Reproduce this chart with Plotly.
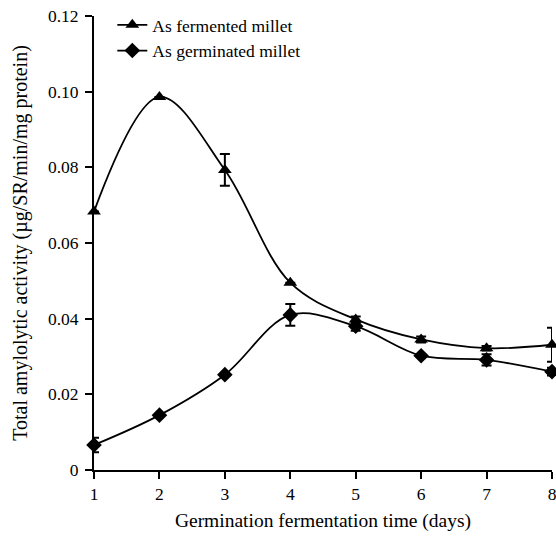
import plotly.graph_objects as go

days = [1, 2, 3, 4, 5, 6, 7, 8]
fermented = [0.0683, 0.0986, 0.0793, 0.0495, 0.0398, 0.0345, 0.0322, 0.0331]
fermented_err = [0.0, 0.0, 0.0042, 0.0, 0.0008, 0.0008, 0.0006, 0.0045]
germinated = [0.0066, 0.0145, 0.0252, 0.0410, 0.0380, 0.0302, 0.0291, 0.0260]
germinated_err = [0.0019, 0.0004, 0.0, 0.0029, 0.0012, 0.0, 0.0015, 0.0010]

y_ticks = [0, 0.02, 0.04, 0.06, 0.08, 0.10, 0.12]
y_ticktext = ["0", "0.02", "0.04", "0.06", "0.08", "0.10", "0.12"]
x_ticks = [1, 2, 3, 4, 5, 6, 7, 8]

font_family = "Liberation Serif, Times New Roman, serif"

fig = go.Figure()
fig.add_trace(go.Scatter(
    x=days, y=fermented, name="As fermented millet",
    mode="lines+markers",
    line=dict(color="black", width=1.8, shape="spline", smoothing=1.0),
    marker=dict(symbol="triangle-up", size=12, color="black"),
    error_y=dict(type="data", array=fermented_err, visible=True,
                 color="black", thickness=2, width=5),
    cliponaxis=False,
))
fig.add_trace(go.Scatter(
    x=days, y=germinated, name="As germinated millet",
    mode="lines+markers",
    line=dict(color="black", width=1.8, shape="spline", smoothing=1.0),
    marker=dict(symbol="diamond", size=12, color="black"),
    error_y=dict(type="data", array=germinated_err, visible=True,
                 color="black", thickness=2, width=5),
    cliponaxis=False,
))

fig.update_layout(
    width=556, height=536,
    margin=dict(l=94, r=4, t=16, b=66, autoexpand=False),
    paper_bgcolor="white", plot_bgcolor="white",
    font=dict(family=font_family, size=17.5, color="black"),
    showlegend=True,
    legend=dict(x=0.04, y=1.02, xanchor="left", yanchor="top",
                bgcolor="rgba(0,0,0,0)", font=dict(size=17.5, family=font_family),
                tracegroupgap=0, itemwidth=30),
    xaxis=dict(range=[1, 8], tickvals=x_ticks, showline=True, linecolor="black",
               linewidth=2, ticks="outside", ticklen=7, tickwidth=2, tickcolor="black",
               showgrid=False, zeroline=False, tickfont=dict(size=17.5),
               ticklabeloverflow="allow", automargin=False,
               title=dict(text="Germination fermentation time (days)", standoff=10,
                          font=dict(size=19.5))),
    yaxis=dict(range=[0, 0.12], tickvals=y_ticks, ticktext=y_ticktext, showline=True,
               linecolor="black", linewidth=2, ticks="outside", ticklen=7, tickwidth=2,
               tickcolor="black", showgrid=False, zeroline=False, tickfont=dict(size=17.5),
               ticklabelstandoff=3, automargin=False, ticklabeloverflow="allow",
               title=dict(text="Total amylolytic activity (µg/SR/min/mg protein)",
                          standoff=15, font=dict(size=20))),
)

fig.write_html("out.html", config={"displayModeBar": False},
               post_script="document.body.style.margin='0';document.body.style.overflow='hidden';")
